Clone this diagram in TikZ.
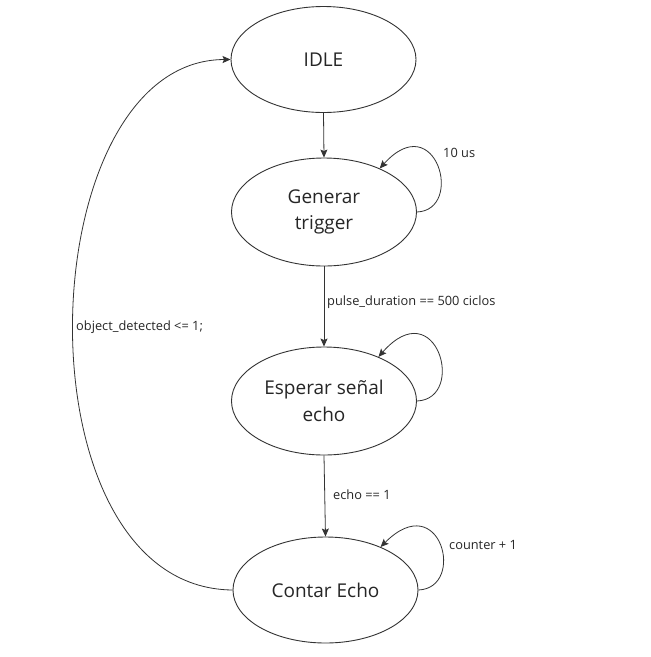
\documentclass[tikz,border=0pt]{standalone}
\usepackage{fontspec}
\setmainfont{Open Sans}
\usetikzlibrary{shapes.geometric,arrows.meta}
\begin{document}
\begin{tikzpicture}[x=1pt,y=-1pt,
  state/.style={ellipse,draw=black!80,line width=0.9pt,inner sep=0pt,
    minimum width=185pt,minimum height=106pt,align=center,
    font=\fontsize{19}{26.5}\selectfont,text=black!85},
  conn/.style={draw=black!80,line width=0.8pt,-{Stealth[length=8pt,width=7pt,inset=1.5pt]}},
  lbl/.style={anchor=west,inner sep=0pt,font=\fontsize{12.8}{14}\selectfont,text=black!85}]
\useasboundingbox (0,0) rectangle (651,657);
\fill[white] (0,0) rectangle (651,657);
\node[state] (idle) at (323.5,59.5) {IDLE};
\node[state,minimum height=108pt] (gen) at (324,212) {Generar\\trigger};
\node[state,minimum height=108pt] (esp) at (324,401) {Esperar señal\\echo};
\node[state] (cnt) at (325.5,590) {Contar Echo};

\draw[conn] (idle.south) -- (gen.north);
\draw[conn] (gen.south) -- (esp.north);
\draw[conn] (esp.south) -- (cnt.north);

\draw[conn] (gen.east) .. controls +(48,-2) and +(56,-62) .. (gen.38);
\draw[conn] (esp.east) .. controls +(50,-2) and +(58,-66) .. (esp.39);
\draw[conn] (cnt.east) .. controls +(48,-2) and +(60,-60) .. (cnt.38);

\draw[conn] (cnt.west) .. controls (13,588) and (28,60) .. (idle.west);

\node[lbl] (l1) at (443,153) {10 us};
\node[lbl] (l2) at (327,302) {pulse\_duration == 500 ciclos};
\node[lbl] (l3) at (333,495) {echo == 1};
\node[lbl] (l4) at (449,545) {counter + 1};
\node[lbl] (l5) at (76,327) {object\_detected <= 1;};
\end{tikzpicture}
\end{document}
